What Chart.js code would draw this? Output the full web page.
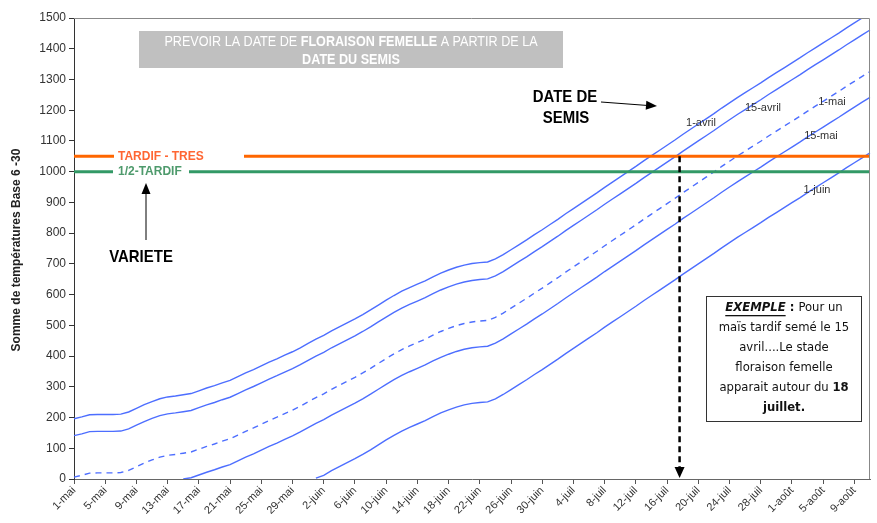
<!DOCTYPE html>
<html>
<head>
<meta charset="utf-8">
<script src="https://cdn.jsdelivr.net/npm/chart.js@4.4.1/dist/chart.umd.min.js"></script>
<style>
  html, body { margin: 0; padding: 0; background: #fff; }
  #wrap { width: 877px; height: 523px; }
</style>
</head>
<body>
<div id="wrap"><canvas id="myChart" width="877" height="523"></canvas></div>
<script>
// days from 1-mai to 11-août
const months = [['mai', 31], ['juin', 30], ['juil', 31], ['août', 11]];
const days = [];
months.forEach(([m, n]) => { for (let d = 1; d <= n; d++) days.push(d + '-' + m); });

// somme de températures (base 6-30) selon la date du semis
const semis1Avril = [196,202,209,210,210,210,211,218,230,242,252,261,267,270,274,278,287,296,304,313,
  321,333,345,356,368,380,391,403,414,427,441,455,467,482,495,508,521,535,550,566,
  582,597,611,623,634,645,658,670,680,689,696,701,704,706,716,730,746,762,778,795,
  811,828,845,863,880,897,914,931,949,966,983,1000,1017,1035,1052,1069,1086,1103,1121,1138,
  1155,1172,1189,1207,1224,1241,1257,1273,1289,1306,1322,1338,1354,1370,1387,1403,1419,1435,1451,1468,
  1484,1500,1516];
const semis15Avril = [141,147,154,155,155,155,156,163,175,187,197,206,212,215,219,223,232,241,249,258,
  266,278,290,301,313,325,336,348,359,372,386,400,412,427,440,453,466,480,495,511,
  527,542,556,568,579,590,603,615,625,634,641,646,649,651,661,675,691,707,723,740,
  756,773,790,808,825,842,859,876,894,911,928,945,962,980,997,1014,1031,1048,1066,1083,
  1100,1117,1134,1152,1169,1186,1202,1218,1234,1251,1267,1283,1299,1315,1332,1348,1364,1380,1396,1413,
  1429,1445,1461];
const semis1Mai = [6,12,19,20,20,20,21,28,40,52,62,71,77,80,84,88,97,106,114,123,
  131,143,155,166,178,190,201,213,224,237,251,265,277,292,305,318,331,345,360,376,
  392,407,421,433,444,455,468,480,490,499,506,511,514,516,526,540,556,572,588,605,
  621,638,655,673,690,707,724,741,759,776,793,810,827,845,862,879,896,913,931,948,
  965,982,999,1017,1034,1051,1067,1083,1099,1116,1132,1148,1164,1180,1197,1213,1229,1245,1261,1278,
  1294,1310,1326];
const semis15Mai = [null,null,null,null,null,null,null,null,null,null,null,null,null,null,0,4,13,22,30,39,
  47,59,71,82,94,106,117,129,140,153,167,181,193,208,221,234,247,261,276,292,
  308,323,337,349,360,371,384,396,406,415,422,427,430,432,442,456,472,488,504,521,
  537,554,571,589,606,623,640,657,675,692,709,726,743,761,778,795,812,829,847,864,
  881,898,915,933,950,967,983,999,1015,1032,1048,1064,1080,1096,1113,1129,1145,1161,1177,1194,
  1210,1226,1242];
const semis1Juin = [null,null,null,null,null,null,null,null,null,null,null,null,null,null,null,null,null,null,null,null,
  null,null,null,null,null,null,null,null,null,null,null,3,12,27,40,53,66,80,95,111,
  127,142,156,168,179,190,203,215,225,234,241,246,249,251,261,275,291,307,323,340,
  356,373,390,408,425,442,459,476,494,511,528,545,562,580,597,614,631,648,666,683,
  700,717,734,752,769,786,802,818,834,851,867,883,899,915,932,948,964,980,996,1013,
  1029,1045,1061];

// seuils des variétés
const seuilTresTardif = 1050;
const seuilDemiTardif = 1000;
const jourExemple = 77.6; // ~18-juil

const lineLabels = [
  ['1-avril', 701, 123], ['15-avril', 763, 108], ['1-mai', 832, 102],
  ['15-mai', 821, 136], ['1-juin', 817, 190]
];

const blue = 'rgb(77,110,255)';

function drawRuns(ctx, runs, cx, y, sx) {
  let total = 0;
  runs.forEach(r => { ctx.font = r[1]; total += ctx.measureText(r[0]).width; });
  ctx.save();
  ctx.translate(cx, y);
  ctx.scale(sx || 1, 1);
  let x = -total / 2;
  runs.forEach(r => {
    ctx.font = r[1];
    if (r[2]) ctx.fillStyle = r[2];
    const w = ctx.measureText(r[0]).width;
    ctx.fillText(r[0], x, 0);
    if (r[3]) { ctx.fillRect(x, 7, w, 1.3); }
    x += w;
  });
  ctx.restore();
  return total;
}

function arrowHead(ctx, x, y, angle, len, half) {
  ctx.save();
  ctx.translate(x, y);
  ctx.rotate(angle);
  ctx.beginPath();
  ctx.moveTo(0, 0);
  ctx.lineTo(-len, -half);
  ctx.lineTo(-len, half);
  ctx.closePath();
  ctx.fill();
  ctx.restore();
}

const annotations = {
  id: 'annotations',
  afterDatasetsDraw(chart) {
    const { ctx, chartArea: a, scales } = chart;
    const xs = scales.x, ys = scales.y;
    ctx.save();
    ctx.textBaseline = 'middle';

    // plot area border
    ctx.strokeStyle = '#888';
    ctx.lineWidth = 1;
    ctx.beginPath();
    ctx.moveTo(a.left, a.top + 0.5); ctx.lineTo(a.right - 0.5, a.top + 0.5); ctx.lineTo(a.right - 0.5, a.bottom);
    ctx.stroke();

    // threshold labels
    const yT = ys.getPixelForValue(seuilTresTardif), yD = ys.getPixelForValue(seuilDemiTardif);
    ctx.fillStyle = '#fff';
    ctx.fillRect(a.left + 40, yT - 6, 130, 12);
    ctx.fillRect(a.left + 39, yD - 6, 76, 12);
    ctx.textAlign = 'left';
    ctx.font = 'bold 12px "Liberation Sans", Arial, sans-serif';
    ctx.fillStyle = '#ff6633';
    ctx.fillText('TARDIF - TRES', a.left + 44, yT + 0.5);
    ctx.fillStyle = '#4e9a6c';
    ctx.fillText('1/2-TARDIF', a.left + 44, yD + 0.5);

    // line labels
    ctx.textAlign = 'center';
    ctx.font = '11px "Liberation Sans", Arial, sans-serif';
    ctx.fillStyle = '#333';
    lineLabels.forEach(([t, x, y]) => ctx.fillText(t, x, y));

    // title box
    ctx.fillStyle = '#c0c0c0';
    ctx.fillRect(139, 31, 424, 37);
    ctx.fillStyle = '#fff';
    const n = '14px "Liberation Sans", Arial, sans-serif';
    const b = 'bold 14px "Liberation Sans", Arial, sans-serif';
    ctx.textAlign = 'left';
    drawRuns(ctx, [['PREVOIR LA DATE DE ', n], ['FLORAISON FEMELLE', b], [' A PARTIR DE LA', n]], 351, 42, 0.9);
    drawRuns(ctx, [['DATE DU ', b], ['SEMIS', b]], 351, 60, 0.9);

    // DATE DE SEMIS
    ctx.fillStyle = '#000';
    const big = 'bold 17px "Liberation Sans", Arial, sans-serif';
    drawRuns(ctx, [['DATE DE', big]], 565, 97, 0.88);
    drawRuns(ctx, [['SEMIS', big]], 566, 118, 0.88);
    ctx.strokeStyle = '#000';
    ctx.lineWidth = 1;
    ctx.beginPath(); ctx.moveTo(601, 102); ctx.lineTo(648, 105.5); ctx.stroke();
    arrowHead(ctx, 657, 106, Math.atan2(4, 56), 11, 4.5);

    // VARIETE
    drawRuns(ctx, [['VARIETE', big]], 141, 257, 0.88);
    ctx.beginPath(); ctx.moveTo(146, 240); ctx.lineTo(146, 192); ctx.stroke();
    arrowHead(ctx, 146, 183, -Math.PI / 2, 11, 4.5);

    // dashed vertical: exemple 15-avril -> 18-juil
    const xe = xs.getPixelForValue(jourExemple);
    ctx.strokeStyle = '#000';
    ctx.lineWidth = 2.5;
    ctx.setLineDash([6, 4]);
    ctx.beginPath(); ctx.moveTo(xe, yT); ctx.lineTo(xe, a.bottom - 9); ctx.stroke();
    ctx.setLineDash([]);
    arrowHead(ctx, xe, a.bottom - 1, Math.PI / 2, 11, 5);

    // EXEMPLE box
    ctx.fillStyle = '#fff';
    ctx.fillRect(706, 296, 156, 126);
    ctx.strokeStyle = '#333';
    ctx.lineWidth = 1;
    ctx.strokeRect(706.5, 296.5, 155, 125);
    ctx.fillStyle = '#111';
    const f = '12px "DejaVu Sans", sans-serif';
    const fb = 'bold 12px "DejaVu Sans", sans-serif';
    const fbi = 'italic bold 12px "DejaVu Sans", sans-serif';
    drawRuns(ctx, [['EXEMPLE', fbi, '#111', true], [' : ', fb], ['Pour un', f]], 784, 308, 0.97);
    drawRuns(ctx, [['maïs tardif semé le 15', f]], 784, 328, 0.97);
    drawRuns(ctx, [['avril....Le stade', f]], 784, 348, 0.97);
    drawRuns(ctx, [['floraison femelle', f]], 784, 368, 0.97);
    drawRuns(ctx, [['apparait autour du ', f], ['18', fb]], 784, 388, 0.97);
    drawRuns(ctx, [['juillet.', fb]], 784, 408, 0.97);

    // y axis title
    ctx.save();
    ctx.translate(17, 250);
    ctx.rotate(-Math.PI / 2);
    ctx.textAlign = 'center';
    ctx.font = 'bold 12px "Liberation Sans", Arial, sans-serif';
    ctx.fillStyle = '#222';
    ctx.fillText('Somme de températures Base 6 -30', 0, 0);
    ctx.restore();

    ctx.restore();
  }
};

function serie(data, dashed) {
  return {
    data: data,
    borderColor: blue,
    borderWidth: 1.4,
    borderDash: dashed ? [6, 5] : [],
    pointRadius: 0,
    tension: 0,
    spanGaps: false,
  };
}

const ctx = document.getElementById('myChart').getContext('2d');
new Chart(ctx, {
  type: 'line',
  data: {
    labels: days,
    datasets: [
      { data: days.map(() => seuilTresTardif), borderColor: '#ff6600', borderWidth: 3, pointRadius: 0 },
      { data: days.map(() => seuilDemiTardif), borderColor: '#339966', borderWidth: 3, pointRadius: 0 },
      serie(semis1Avril),
      serie(semis15Avril),
      serie(semis1Mai, true),
      serie(semis15Mai),
      serie(semis1Juin),
    ],
  },
  options: {
    responsive: false,
    animation: false,
    layout: { padding: { top: 18, right: 7, left: 0, bottom: 0 } },
    plugins: { legend: { display: false }, tooltip: { enabled: false } },
    scales: {
      x: {
        type: 'category',
        offset: false,
        grid: { drawOnChartArea: false, tickLength: 5, color: '#555' },
        border: { color: '#666' },
        ticks: {
          autoSkip: false, maxRotation: 45, minRotation: 45, padding: 0,
          color: '#333', font: { family: '"Liberation Sans", Arial', size: 11 },
          callback: function (val, i) { return i % 4 === 0 ? this.getLabelForValue(val) : null; }
        },
        afterFit: s => { s.height = 44; }
      },
      y: {
        min: 0, max: 1500,
        grid: { drawOnChartArea: false, tickLength: 5, color: '#333' },
        border: { color: '#333' },
        ticks: {
          stepSize: 100, padding: 3, color: '#333',
          font: { family: '"Liberation Sans", Arial', size: 12 },
          callback: v => String(v)
        },
        afterFit: s => { s.width = 74; }
      }
    }
  },
  plugins: [annotations]
});
</script>
</body>
</html>
